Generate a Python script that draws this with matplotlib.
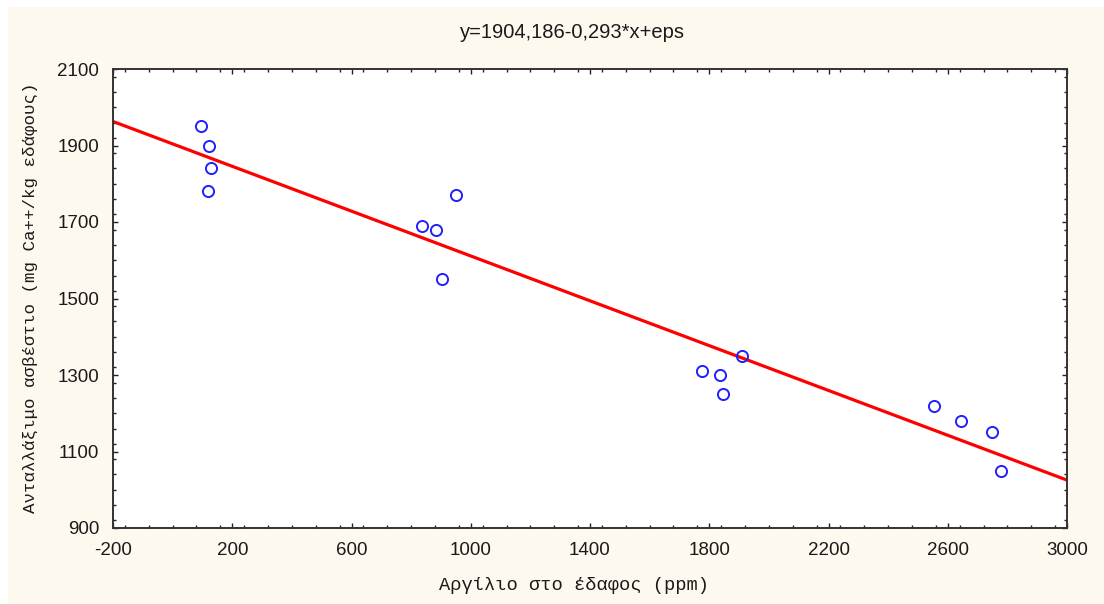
import matplotlib
matplotlib.use('Agg')
import matplotlib.pyplot as plt
import matplotlib.ticker as mticker
from matplotlib.patches import Rectangle
import numpy as np

plt.rcParams['axes.unicode_minus'] = False

# data
al_ppm = [95, 122, 130, 120, 835, 885, 905, 950,
          1775, 1835, 1845, 1910, 2555, 2645, 2750, 2780]
ca_mg = [1950, 1900, 1840, 1780, 1690, 1680, 1550, 1770,
         1310, 1300, 1250, 1350, 1220, 1180, 1150, 1050]
intercept = 1904.186
slope = -0.293
x_ticks = [-200, 200, 600, 1000, 1400, 1800, 2200, 2600, 3000]
y_ticks = [900, 1100, 1300, 1500, 1700, 1900, 2100]

title = "y=1904,186-0,293*x+eps"
xlab = "Αργίλιο στο έδαφος (ppm)"
ylab = "Ανταλλάξιμο ασβέστιο (mg Ca++/kg εδάφους)"

cream = '#fdf9ee'

fig = plt.figure(figsize=(11.04, 6.04), dpi=100)
fig.patch.set_facecolor('white')
fig.patches.append(Rectangle((8/1104, 0), 1, 1 - 7/604, transform=fig.transFigure,
                             facecolor=cream, edgecolor='none', zorder=-10))

ax = fig.add_axes([113/1104, 1 - 528/604, (1067-113)/1104, (528-69)/604])
ax.set_facecolor('white')

xs = np.array([-200, 3000])
ax.plot(xs, intercept + slope*xs, color='#ff0000', lw=2.3, zorder=2)
ax.plot(al_ppm, ca_mg, 'o', mfc='none', mec='#2020ff', mew=1.4, ms=8, zorder=3)

ax.set_xlim(-200, 3000)
ax.set_ylim(900, 2100)
ax.set_xticks(x_ticks)
ax.set_yticks(y_ticks)
ax.xaxis.set_minor_locator(mticker.MultipleLocator(80))
ax.yaxis.set_minor_locator(mticker.MultipleLocator(40))
ax.tick_params(which='both', direction='in', top=True, right=True,
               color='#222222', width=1)
ax.tick_params(which='major', length=3.5)
ax.tick_params(which='minor', length=2)
ax.tick_params(axis='x', which='major', pad=10)
ax.tick_params(axis='y', which='major', pad=10)
for lab in ax.get_xticklabels() + ax.get_yticklabels():
    lab.set_fontfamily('Liberation Sans')
    lab.set_fontsize(13.5)
    lab.set_color('#1a1a1a')
for sp in ax.spines.values():
    sp.set_linewidth(1.4)
    sp.set_color('#333333')

fig.text(572/1104, 1 - 32/604, title, ha='center', va='center',
         fontfamily='Liberation Sans', fontsize=14.5, color='#1a1a1a')
fig.text(574/1104, 1 - 585/604, xlab, ha='center', va='center',
         fontfamily='Liberation Mono', fontsize=13.5, color='#1a1a1a')
fig.text(30/1104, 1 - 298/604, ylab, ha='center', va='center', rotation=90,
         fontfamily='Liberation Mono', fontsize=12.6, color='#1a1a1a')

fig.savefig('out.png', dpi=100, facecolor=fig.get_facecolor())
